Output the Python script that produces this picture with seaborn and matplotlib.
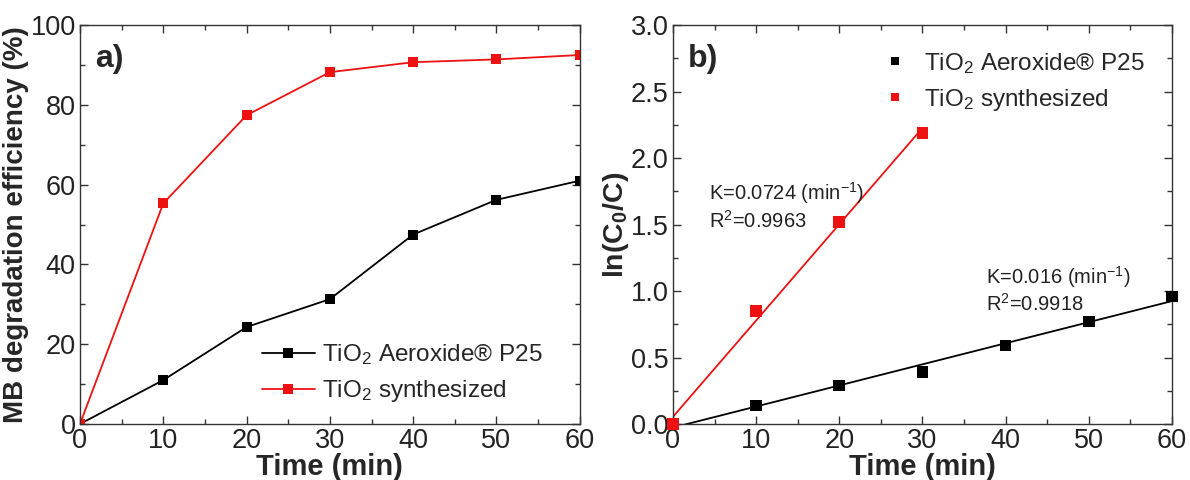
import numpy as np
import pandas as pd
import matplotlib
matplotlib.use("Agg")
import matplotlib.pyplot as plt
import seaborn as sns
from matplotlib.ticker import MultipleLocator

# ---- data ----
time_min = [0, 10, 20, 30, 40, 50, 60]
eff_p25 = [0, 11.0, 24.3, 31.3, 47.5, 56.2, 61.0]
eff_syn = [0, 55.3, 77.4, 88.2, 90.7, 91.4, 92.5]

time_syn_b = [0, 10, 20, 30]
ln_syn = [0.0, 0.85, 1.52, 2.19]
time_p25_b = [0, 10, 20, 30, 40, 50, 60]
ln_p25 = [0.0, 0.14, 0.29, 0.39, 0.59, 0.77, 0.96]

label_p25 = "TiO$_2$ Aeroxide\u00ae P25"
label_syn = "TiO$_2$ synthesized"
RED = "#ee1111"

sns.set_style("ticks")
plt.rcParams['font.family'] = ['Liberation Sans', 'DejaVu Sans']
plt.rcParams['mathtext.fontset'] = 'custom'
plt.rcParams['mathtext.rm'] = 'Liberation Sans'
plt.rcParams['mathtext.it'] = 'Liberation Sans:italic'
plt.rcParams['mathtext.bf'] = 'Liberation Sans:bold'

fig = plt.figure(figsize=(11.9, 4.8), dpi=100)
ax1 = fig.add_axes([0.0672, 0.1167, 0.420, 0.831])
ax2 = fig.add_axes([0.5655, 0.1167, 0.4193, 0.831])

def style_axes(ax):
    for s in ax.spines.values():
        s.set_linewidth(1.0)
        s.set_color("#333333")
    ax.tick_params(which="both", direction="in", top=True, right=True,
                   labelsize=19.5, colors="#333333", labelcolor="#222222", pad=3)
    ax.tick_params(which="major", length=6, width=1)
    ax.tick_params(which="minor", length=3.5, width=1)

# ---- panel a ----
da = pd.DataFrame({"t": time_min * 2,
                   "v": eff_p25 + eff_syn,
                   "s": [label_p25] * 7 + [label_syn] * 7})
sns.lineplot(data=da, x="t", y="v", hue="s", palette={label_p25: "black", label_syn: RED},
             marker="s", markersize=7, markeredgewidth=0, linewidth=1.3, ax=ax1)
ax1.set_xlim(0, 60)
ax1.set_ylim(0, 100)
ax1.xaxis.set_major_locator(MultipleLocator(10))
ax1.xaxis.set_minor_locator(MultipleLocator(5))
ax1.yaxis.set_major_locator(MultipleLocator(20))
ax1.yaxis.set_minor_locator(MultipleLocator(10))
style_axes(ax1)
ax1.set_xlabel("Time (min)", fontsize=21, fontweight="bold", labelpad=-1)
ax1.set_ylabel("MB degradation efficiency (%)", fontsize=20, fontweight="bold", labelpad=1)
ax1.legend(loc="lower right", bbox_to_anchor=(0.97, -0.005), frameon=False, fontsize=17.5,
           handlelength=2.2, handletextpad=0.3, labelspacing=0.45)
ax1.text(0.03, 0.915, "a)", transform=ax1.transAxes, fontsize=23, fontweight="bold",
         va="center", ha="left")

# ---- panel b ----
db = pd.DataFrame({"t": time_p25_b + time_syn_b,
                   "v": ln_p25 + ln_syn,
                   "s": [label_p25] * len(time_p25_b) + [label_syn] * len(time_syn_b)})
sns.scatterplot(data=db, x="t", y="v", hue="s", palette={label_p25: "black", label_syn: RED},
                marker="s", s=70, linewidth=0, ax=ax2, zorder=3, clip_on=False)
# linear fits
for xs, ys, c in [(time_syn_b, ln_syn, RED), (time_p25_b, ln_p25, "black")]:
    k, b = np.polyfit(xs, ys, 1)
    xf = np.array([xs[0], xs[-1]], dtype=float)
    sns.lineplot(x=xf, y=k * xf + b, color=c, linewidth=1.3, ax=ax2, legend=False)
ax2.set_xlim(0, 60)
ax2.set_ylim(0, 3.0)
ax2.xaxis.set_major_locator(MultipleLocator(10))
ax2.xaxis.set_minor_locator(MultipleLocator(5))
ax2.yaxis.set_major_locator(MultipleLocator(0.5))
ax2.yaxis.set_minor_locator(MultipleLocator(0.25))
ax2.yaxis.set_major_formatter(matplotlib.ticker.FormatStrFormatter("%.1f"))
style_axes(ax2)
ax2.set_xlabel("Time (min)", fontsize=21, fontweight="bold", labelpad=-1)
ax2.set_ylabel("ln(C$_\\mathbf{0}$/C)", fontsize=20.5, fontweight="bold", labelpad=0)
ax2.legend(loc="upper right", bbox_to_anchor=(0.99, 0.99), frameon=False, fontsize=17.5,
           handletextpad=0.2, labelspacing=0.45, markerscale=0.75)
ax2.text(0.03, 0.915, "b)", transform=ax2.transAxes, fontsize=23, fontweight="bold",
         va="center", ha="left")
ax2.text(4.3, 1.74, "K=0.0724 (min$^{-1}$)", fontsize=14.5, va="center", color="#222222")
ax2.text(4.3, 1.53, "R$^2$=0.9963", fontsize=14.5, va="center", color="#222222")
ax2.text(37.6, 1.105, "K=0.016 (min$^{-1}$)", fontsize=14.5, va="center", color="#222222")
ax2.text(37.6, 0.905, "R$^2$=0.9918", fontsize=14.5, va="center", color="#222222")

fig.savefig("out.png", dpi=100)
